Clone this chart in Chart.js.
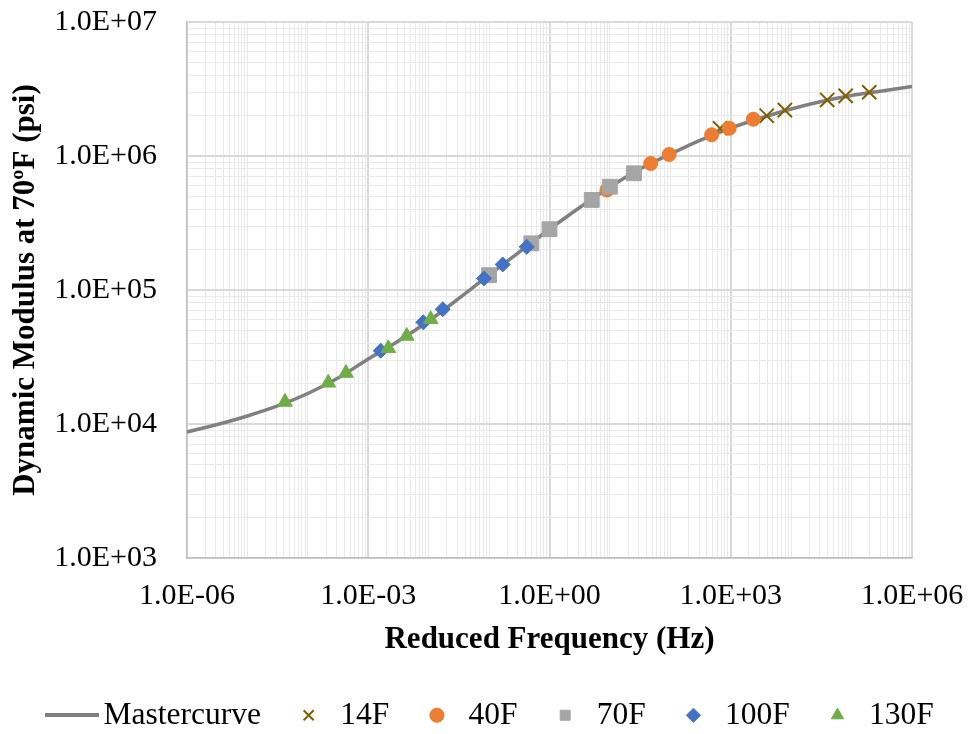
<!DOCTYPE html>
<html>
<head>
<meta charset="utf-8">
<script src="https://cdn.jsdelivr.net/npm/chart.js@4"></script>
<style>
  body { margin: 0; background: #fff; }
  #wrap { width: 972px; height: 734px; }
</style>
</head>
<body>
<div id="wrap"><canvas id="grafico" width="972" height="734"></canvas></div>
<script>
// Mastercurve (reduced frequency in Hz, dynamic modulus in psi)
const curveFreq = [1e-6, 3.16e-6, 1e-5, 3.16e-5, 1e-4, 3.16e-4, 1e-3, 3.16e-3, 1e-2, 3.16e-2,
  1e-1, 3.16e-1, 1, 3.16, 10, 31.6, 100, 316, 1000, 3160, 1e4, 3.16e4, 1e5, 3.16e5, 1e6];
const curveMod = [8710, 9910, 11480, 13630, 16890, 22040, 30540, 41590, 58690, 86450,
  129500, 192100, 283900, 412800, 587400, 800400, 1035000, 1316000, 1618000, 1922000,
  2244000, 2551000, 2826000, 3053000, 3304000];

// measured points per temperature
const freq14F = [664, 3940, 7870, 39500, 79800, 196000];
const mod14F = [1610000, 2000000, 2200000, 2620000, 2810000, 2990000];
const freq40F = [8.93, 47.3, 95.7, 483, 944, 2360];
const mod40F = [557000, 879000, 1026000, 1440000, 1610000, 1880000];
const freq70F = [0.1, 0.5, 1, 5, 10, 25];
const mod70F = [129000, 223000, 284000, 470000, 590000, 743000];
const freq100F = [1.61e-3, 8.15e-3, 1.71e-2, 0.0824, 0.168, 0.419];
const mod100F = [35200, 57400, 71800, 122000, 155000, 210000];
const freq130F = [4.19e-5, 2.18e-4, 4.28e-4, 2.15e-3, 4.33e-3, 1.08e-2];
const mod130F = [14600, 20300, 24000, 36700, 45400, 60400];

const xTickExp = [-6, -5, -4, -3, -2, -1, 0, 1, 2, 3, 4, 5, 6];
const yTickExp = [3, 4, 5, 6, 7];

const pares = (xs, ys) => xs.map((x, i) => ({ x: x, y: ys[i] }));

// ticks 1..9 x 10^n
function ticksLog(expoentes) {
  const t = [];
  expoentes.forEach((e, i) => {
    const ultimo = i === expoentes.length - 1;
    for (let m = 1; m <= (ultimo ? 1 : 9); m++) t.push({ value: m * Math.pow(10, e) });
  });
  return t;
}
function expoente(v) {
  const l = Math.log10(v);
  return Math.abs(l - Math.round(l)) < 1e-6 ? Math.round(l) : null;
}
function rotulo(v) {
  const e = Math.round(Math.log10(v));
  return "1.0E" + (e < 0 ? "-" : "+") + String(Math.abs(e)).padStart(2, "0");
}

// legend sample for the curve
const amostraLinha = document.createElement("canvas");
amostraLinha.width = 54;
amostraLinha.height = 4;
const c2 = amostraLinha.getContext("2d");
c2.fillStyle = "#808080";
c2.fillRect(0, 0, 54, 4);

const fonte = "'Liberation Serif', 'Times New Roman', serif";

function serie(label, xs, ys, estilo, cor, raio, ordem, borda) {
  return {
    label: label,
    data: pares(xs, ys),
    pointStyle: estilo,
    pointRadius: raio,
    pointHoverRadius: raio,
    backgroundColor: cor,
    borderColor: cor,
    borderWidth: borda,
    showLine: false,
    order: ordem
  };
}

new Chart(document.getElementById("grafico"), {
  type: "scatter",
  data: {
    datasets: [
      {
        label: "Mastercurve",
        data: pares(curveFreq, curveMod),
        showLine: true,
        borderColor: "#808080",
        backgroundColor: "#808080",
        borderWidth: 3.5,
        pointRadius: 0,
        pointHoverRadius: 0,
        pointStyle: amostraLinha,
        cubicInterpolationMode: "monotone",
        order: 6
      },
      serie("14F", freq14F, mod14F, "crossRot", "#7f6000", 10, 5, 2),
      serie("40F", freq40F, mod40F, "circle", "#ed7d31", 7, 4, 1),
      serie("70F", freq70F, mod70F, "rect", "#a5a5a5", 10.5, 3, 1),
      serie("100F", freq100F, mod100F, "rectRot", "#4472c4", 7.5, 2, 1),
      serie("130F", freq130F, mod130F, "triangle", "#70ad47", 8.5, 1, 1)
    ]
  },
  options: {
    responsive: false,
    animation: false,
    layout: { padding: { top: 22, right: 0, left: 18, bottom: -7 } },
    plugins: {
      tooltip: { enabled: false },
      legend: {
        position: "bottom",
        labels: {
          usePointStyle: true,
          boxWidth: 31.5,
          boxHeight: 10,
          padding: 32,
          color: "#000",
          font: { family: fonte, size: 31.5 },
          sort: (a, b) => a.datasetIndex - b.datasetIndex
        }
      }
    },
    scales: {
      x: {
        type: "logarithmic",
        min: 1e-6,
        max: 1e6,
        afterBuildTicks: s => { s.ticks = ticksLog(xTickExp); },
        afterFit: s => { s.height = 109.5; s.paddingLeft = 0; s.paddingRight = 60; },
        grid: {
          drawTicks: false,
          color: c => { const e = expoente(c.tick.value); return e !== null && e % 3 === 0 ? "#d9d9d9" : "#e9e9e9"; },
          lineWidth: c => { const e = expoente(c.tick.value); return e !== null && e % 3 === 0 ? 2 : 1; }
        },
        border: { color: "#bfbfbf", width: 1.5 },
        ticks: {
          autoSkip: false,
          maxRotation: 0,
          padding: 20,
          color: "#000",
          font: { family: fonte, size: 30 },
          callback: v => { const e = expoente(v); return e !== null && e % 3 === 0 ? rotulo(v) : ""; }
        },
        title: {
          display: true,
          text: "Reduced Frequency (Hz)",
          color: "#000",
          padding: { top: 0, bottom: 9 },
          font: { family: fonte, size: 31, weight: "bold" }
        }
      },
      y: {
        type: "logarithmic",
        min: 1e3,
        max: 1e7,
        afterBuildTicks: s => { s.ticks = ticksLog(yTickExp); },
        afterFit: s => { s.width = 169; s.paddingTop = 0; s.paddingBottom = 0; },
        grid: {
          drawTicks: false,
          color: c => expoente(c.tick.value) !== null ? "#d9d9d9" : "#e9e9e9",
          lineWidth: c => expoente(c.tick.value) !== null ? 2 : 1
        },
        border: { color: "#bfbfbf", width: 1.5 },
        ticks: {
          autoSkip: false,
          padding: 30,
          color: "#000",
          font: { family: fonte, size: 30 },
          callback: v => expoente(v) !== null ? rotulo(v) : ""
        },
        title: {
          display: true,
          text: "Dynamic Modulus at 70ºF (psi)",
          color: "#000",
          padding: { top: -11, bottom: 0 },
          font: { family: fonte, size: 31, weight: "bold" }
        }
      }
    }
  }
});
</script>
</body>
</html>
